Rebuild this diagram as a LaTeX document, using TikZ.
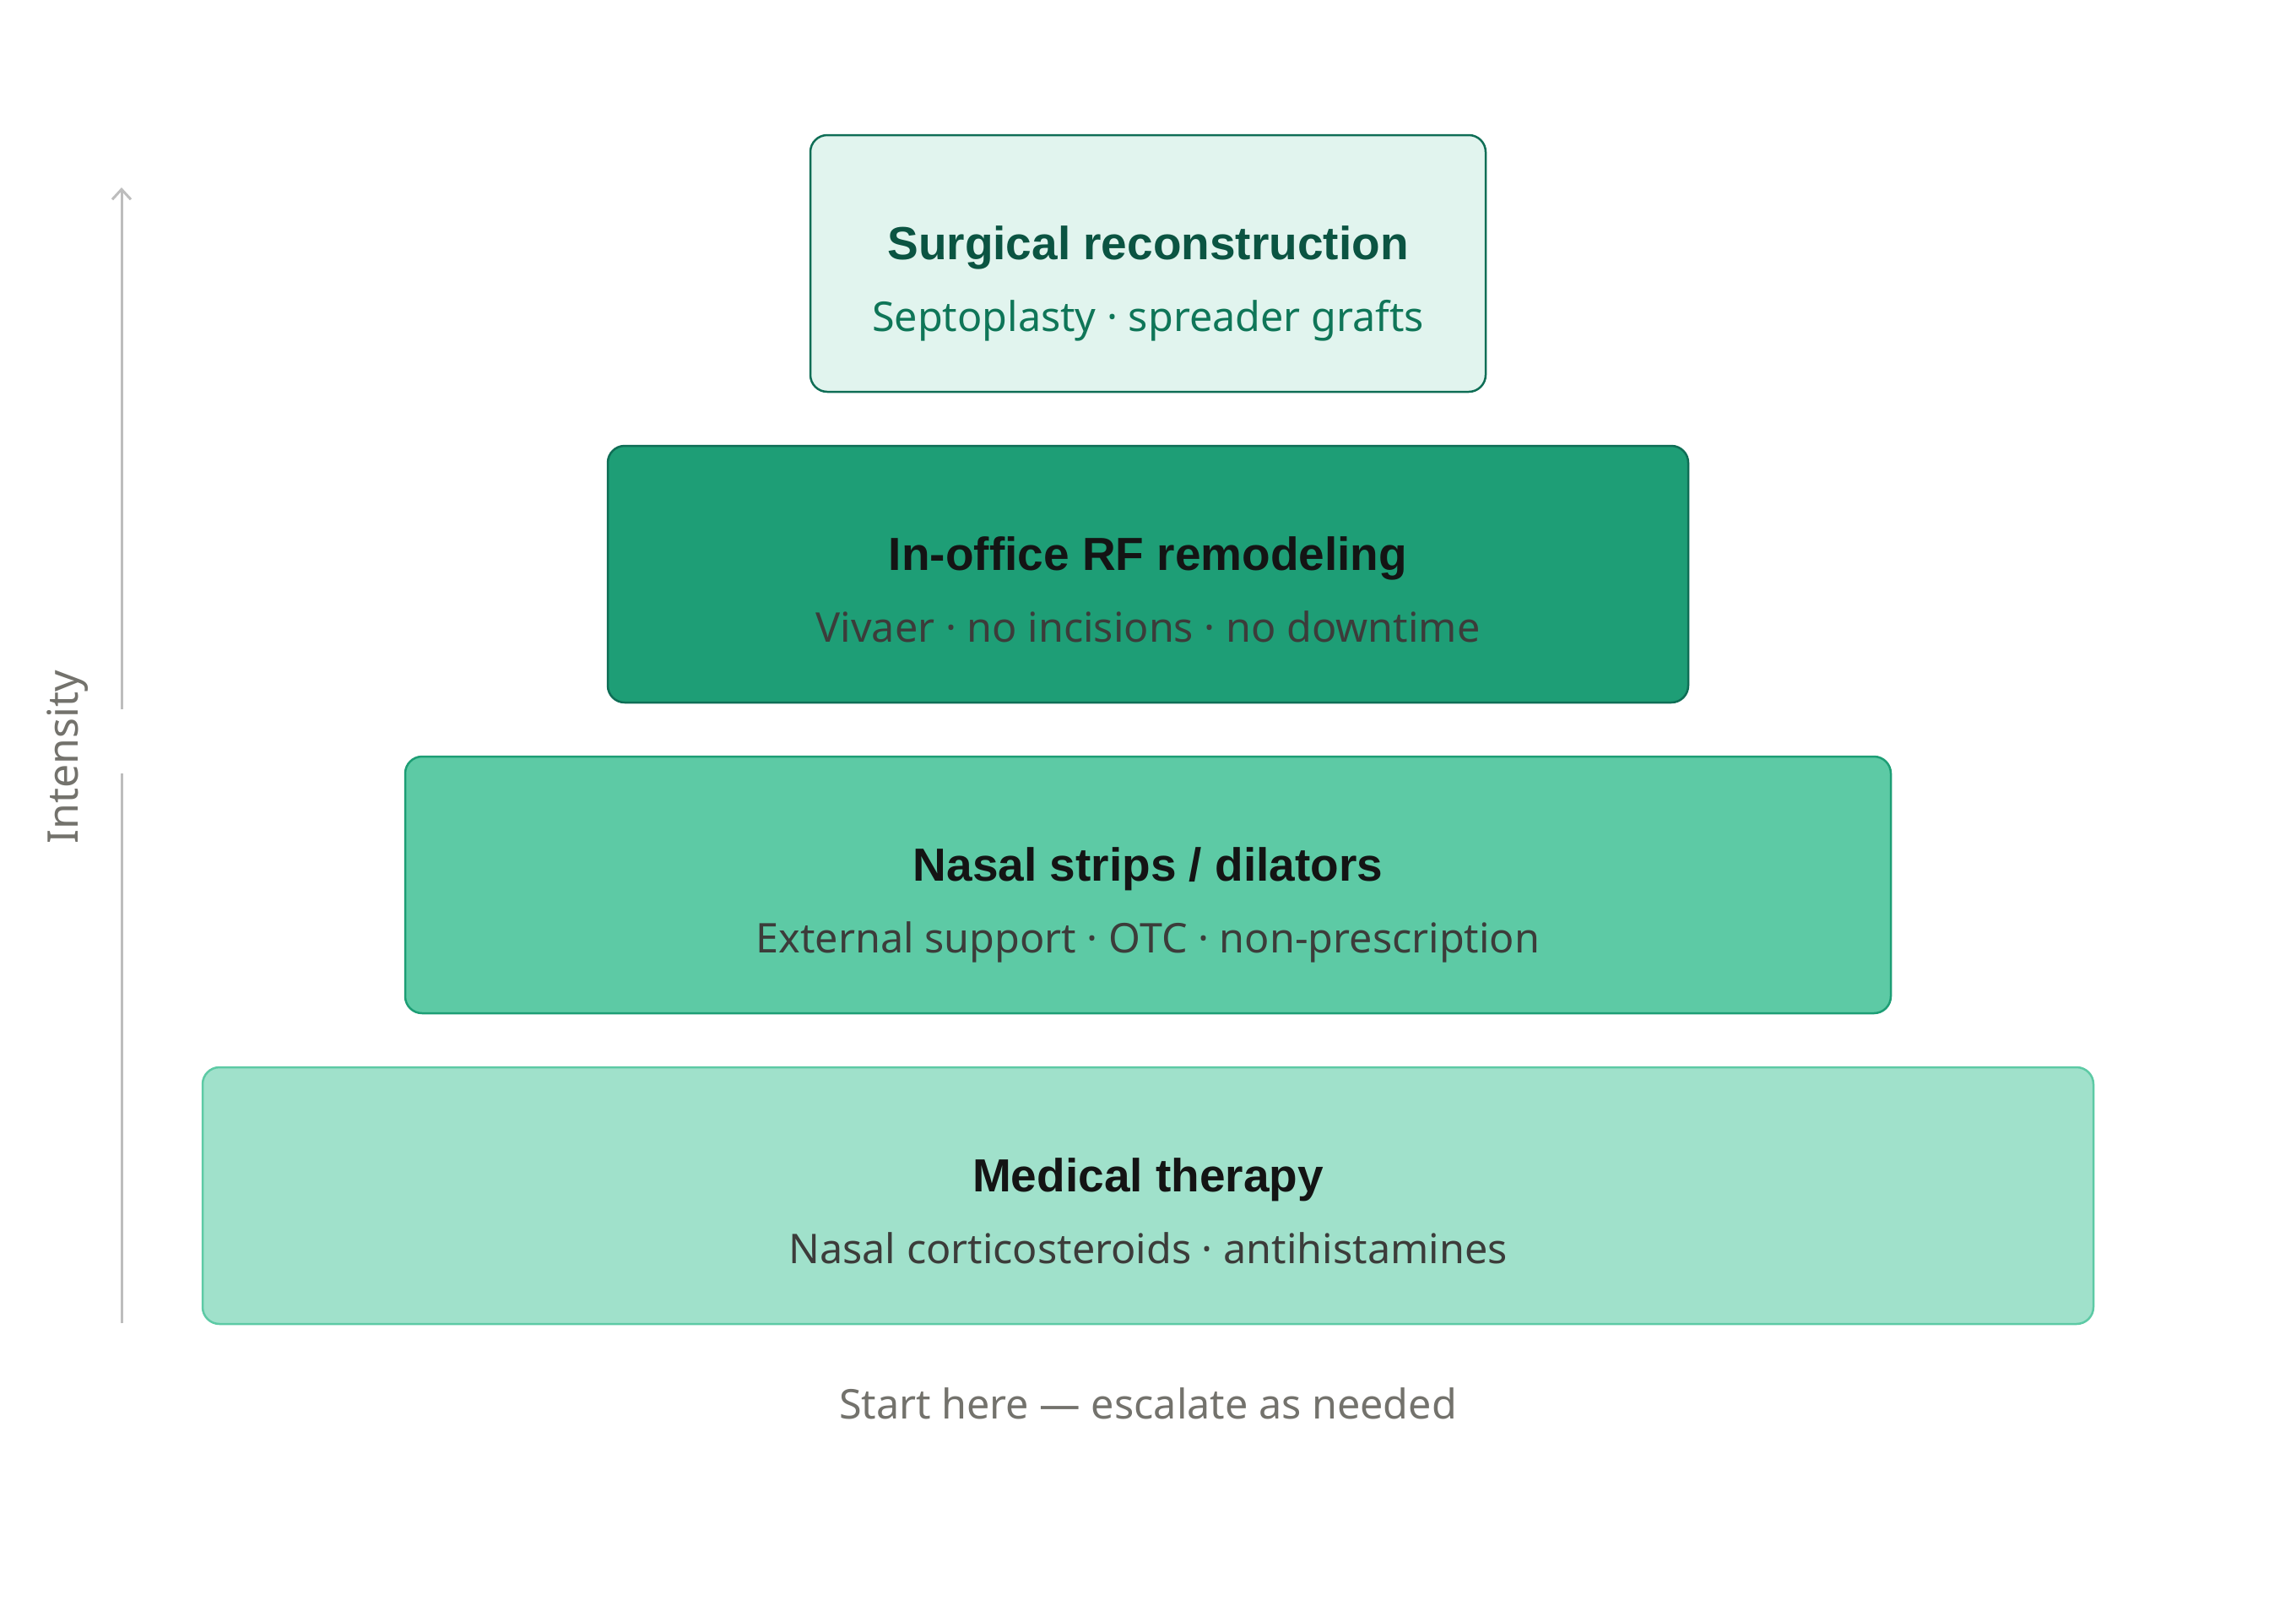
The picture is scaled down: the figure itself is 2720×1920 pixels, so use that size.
\documentclass[tikz,border=0pt]{standalone}
\usepackage{fontspec}
\setmainfont{Noto Sans}
\newfontfamily\ttlfamily{Liberation Sans}
\usetikzlibrary{arrows.meta}
\definecolor{c1fill}{HTML}{E1F4EE}
\definecolor{c1draw}{HTML}{0F6E56}
\definecolor{c1title}{HTML}{0B5442}
\definecolor{c1sub}{HTML}{0F7658}
\definecolor{c2fill}{HTML}{1E9E76}
\definecolor{c2draw}{HTML}{0F6E56}
\definecolor{c3fill}{HTML}{5DCAA5}
\definecolor{c3draw}{HTML}{1D9E75}
\definecolor{c4fill}{HTML}{A0E1CB}
\definecolor{c4draw}{HTML}{5DCAA5}
\definecolor{darktxt}{HTML}{141414}
\definecolor{subtxt}{HTML}{3C3C3A}
\definecolor{graytxt}{HTML}{73726C}
\definecolor{axisgray}{HTML}{BDBDBD}
\tikzset{
  tier/.style={rectangle, rounded corners=20pt, line width=2.5pt, inner sep=0pt, minimum height=304pt},
  ttl/.style={font=\ttlfamily\fontsize{55}{62}\bfseries\selectfont, text=darktxt, inner sep=0pt, anchor=base},
  sbt/.style={font=\fontsize{48.5}{56}\selectfont, text=subtxt, inner sep=0pt, anchor=base},
}
\begin{document}
\begin{tikzpicture}[x=1pt,y=-1pt]
\useasboundingbox (0,0) rectangle (2720,1920);
\fill[white] (0,0) rectangle (2720,1920);
% tiers
\node[tier, fill=c1fill, draw=c1draw, minimum width=800pt] (t1) at (1360,312) {};
\node[tier, fill=c2fill, draw=c2draw, minimum width=1280pt] (t2) at (1360,680) {};
\node[tier, fill=c3fill, draw=c3draw, minimum width=1760pt] (t3) at (1360,1048) {};
\node[tier, fill=c4fill, draw=c4draw, minimum width=2240pt] (t4) at (1360,1416) {};
% texts
\node[ttl, text=c1title] (t1a) at (1360,307) {Surgical reconstruction};
\node[sbt, text=c1sub] (t1b) at (1360,392) {Septoplasty · spreader grafts};
\node[ttl] (t2a) at (1360,675) {In-office RF remodeling};
\node[sbt] (t2b) at (1360,760) {Vivaer · no incisions · no downtime};
\node[ttl] (t3a) at (1360,1043) {Nasal strips / dilators};
\node[sbt] (t3b) at (1360,1128) {External support · OTC · non-prescription};
\node[ttl] (t4a) at (1360,1411) {Medical therapy};
\node[sbt] (t4b) at (1360,1496) {Nasal corticosteroids · antihistamines};
% caption
\node[sbt, font=\fontsize{48.5}{56}\selectfont, text=graytxt] (cap) at (1360,1680) {Start here — escalate as needed};
% axis
\coordinate (axbot) at (144,1567);
\coordinate (axgaplo) at (144,916);
\coordinate (axgaphi) at (144,840);
\coordinate (axtop) at (144,222);
\node[font=\fontsize{50}{58}\selectfont, text=graytxt, rotate=90, inner sep=0pt] (intens) at (80,897) {Intensity};
\draw[axisgray, line width=3pt] (axbot) -- (axgaplo);
\draw[axisgray, line width=3pt, -{Straight Barb[length=12pt,width=22pt,line width=3pt]}] (axgaphi) -- (axtop);
\end{tikzpicture}
\end{document}
